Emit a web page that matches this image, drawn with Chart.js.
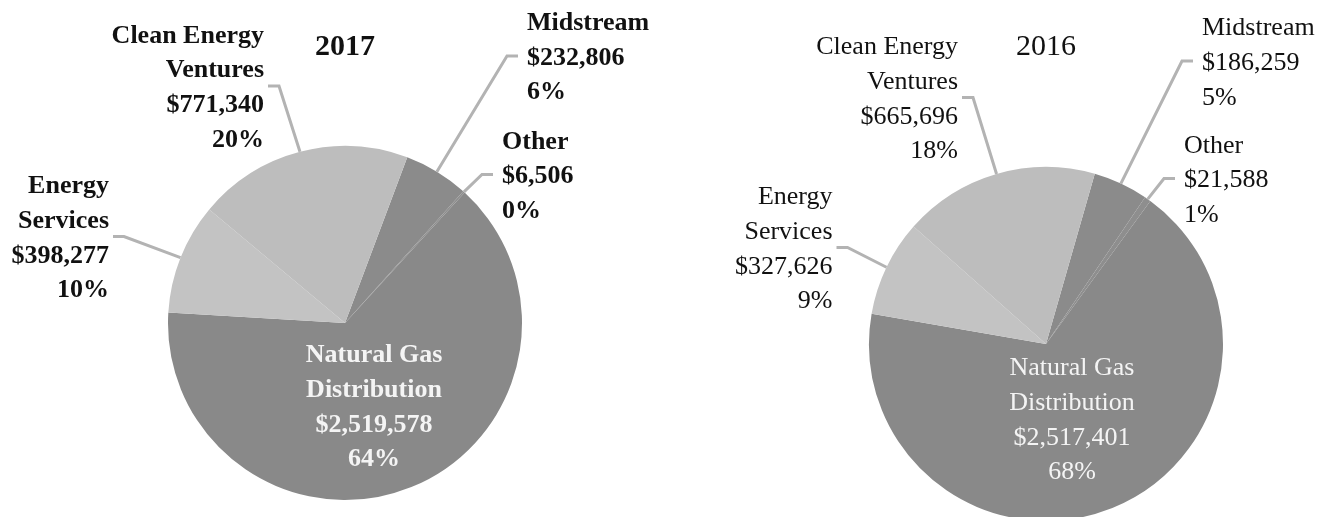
<!DOCTYPE html>
<html>
<head>
<meta charset="utf-8">
<script src="https://cdn.jsdelivr.net/npm/chart.js@4.4.0/dist/chart.umd.min.js"></script>
<style>
  html, body { margin: 0; padding: 0; background: #fff; overflow: hidden; }
  #wrap { position: relative; width: 1332px; height: 517px; overflow: hidden; }
  .half { position: absolute; top: 0; width: 666px; height: 540px; }
</style>
</head>
<body>
<div id="wrap">
  <div class="half" style="left:0"><canvas id="chart2017" width="666" height="540"></canvas></div>
  <div class="half" style="left:666px"><canvas id="chart2016" width="666" height="540"></canvas></div>
</div>
<script>
// segments, in drawing order (clockwise from the start angle)
const categories = [['Midstream'], ['Other'], ['Natural Gas', 'Distribution'], ['Energy', 'Services'], ['Clean Energy', 'Ventures']];
const values2017 = [232806, 6506, 2519578, 398277, 771340];
const values2016 = [186259, 21588, 2517401, 327626, 665696];

const sliceColors = ['#8b8b8b', '#8e8e8e', '#898989', '#c3c3c3', '#bdbdbd'];
const serif = "'Liberation Serif', 'Times New Roman', serif";

// where each callout sits, relative to the pie centre (block centre, text side)
const layout2017 = [
	{ side: 'left', dx: 182, dy: -265 },
	{ side: 'left', dx: 157, dy: -146.5 },
	{ side: 'center', dx: 29, dy: 84.5 },
	{ side: 'right', dx: -236, dy: -84.5 },
	{ side: 'right', dx: -81, dy: -235 }
];
const layout2016 = [
	{ side: 'left', dx: 156, dy: -281 },
	{ side: 'left', dx: 138, dy: -163.5 },
	{ side: 'center', dx: 26, dy: 76.5 },
	{ side: 'right', dx: -213.5, dy: -94.5 },
	{ side: 'right', dx: -88, dy: -244.5 }
];

const callouts = {
	id: 'callouts',
	afterDraw(chart, args, opts) {
		const ctx = chart.ctx;
		const data = chart.data.datasets[0].data;
		const total = data.reduce((a, b) => a + b, 0);
		const arcs = chart.getDatasetMeta(0).data;
		const lineH = 34.7;
		ctx.save();

		// title
		ctx.fillStyle = '#111';
		ctx.font = opts.titleWeight + ' 30px ' + serif;
		ctx.textAlign = 'center';
		ctx.textBaseline = 'middle';
		ctx.fillText(opts.title, arcs[0].x, 47);

		ctx.font = opts.weight + ' 26px ' + serif;
		arcs.forEach((arc, i) => {
			const pos = opts.layout[i];
			const cx = arc.x + pos.dx;
			const cy = arc.y + pos.dy;
			const lines = chart.data.labels[i].slice();
			lines.push('$' + data[i].toLocaleString('en-US'));
			lines.push(Math.round(data[i] / total * 100) + '%');

			if (pos.side !== 'center') {
				const mid = (arc.startAngle + arc.endAngle) / 2;
				const ex = arc.x + Math.cos(mid) * arc.outerRadius;
				const ey = arc.y + Math.sin(mid) * arc.outerRadius;
				const sy = cy - 2;
				let near, far;
				if (pos.side === 'right') {
					far = cx + 4; near = far + 11;
				} else {
					far = cx - 9; near = far - 11;
				}
				ctx.strokeStyle = '#b3b3b3';
				ctx.lineWidth = 3;
				ctx.lineJoin = 'miter';
				ctx.beginPath();
				ctx.moveTo(ex, ey);
				ctx.lineTo(near, sy);
				ctx.lineTo(far, sy);
				ctx.stroke();
			}

			ctx.fillStyle = pos.side === 'center' ? '#f4f4f4' : '#111';
			ctx.textAlign = pos.side;
			lines.forEach((t, j) => {
				ctx.fillText(t, cx, cy + (j - (lines.length - 1) / 2) * lineH);
			});
		});
		ctx.restore();
	}
};

function makePie(id, values, title, weight, rotation, layout, padding) {
	return new Chart(document.getElementById(id), {
		type: 'pie',
		data: {
			labels: categories,
			datasets: [{
				data: values,
				backgroundColor: sliceColors,
				borderWidth: 0,
				hoverBorderWidth: 0,
				hoverOffset: 0,
				offset: 0
			}]
		},
		options: {
			responsive: false,
			animation: false,
			events: [],
			rotation: rotation,
			layout: { padding: padding },
			plugins: {
				legend: { display: false },
				tooltip: { enabled: false },
				title: { display: false },
				callouts: { title: title, titleWeight: weight, weight: weight, layout: layout }
			}
		},
		plugins: [callouts]
	});
}

makePie('chart2017', values2017, '2017', 'bold', 20.6, layout2017,
	{ left: 168, right: 144, top: 146, bottom: 40 });
makePie('chart2016', values2016, '2016', 'normal', 16, layout2016,
	{ left: 203, right: 109, top: 167, bottom: 19 });
</script>
</body>
</html>
